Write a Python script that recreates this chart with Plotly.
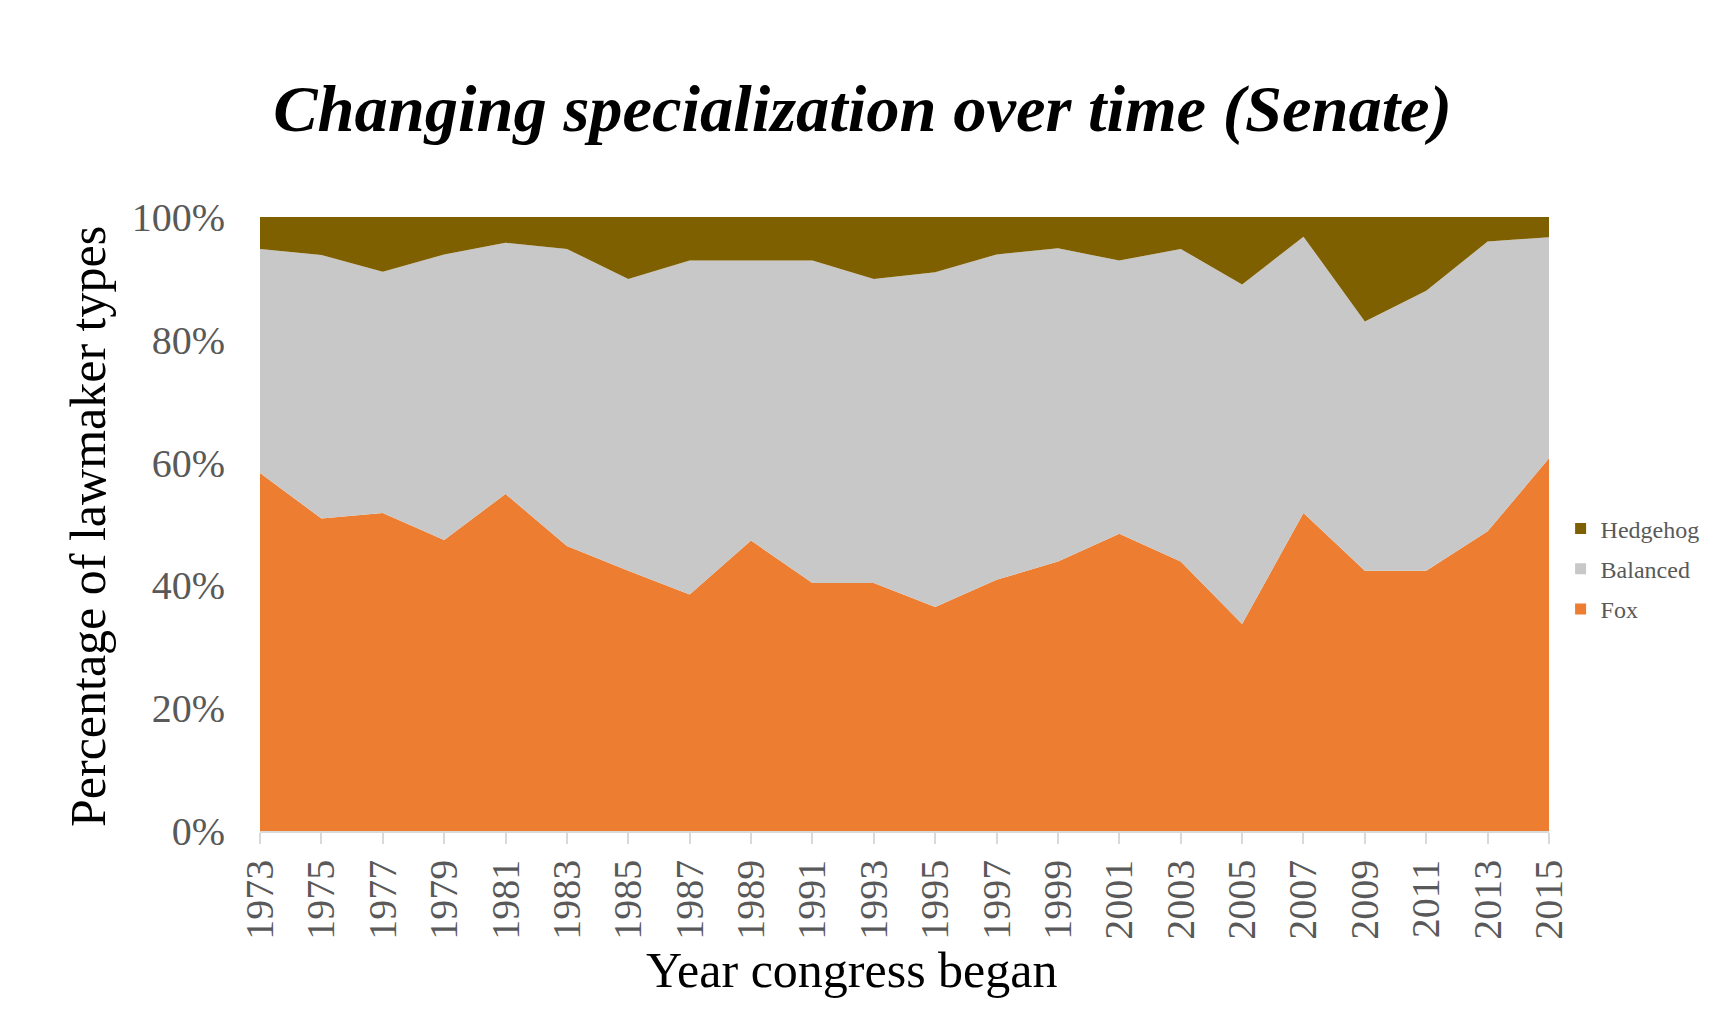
import plotly.graph_objects as go

years = [1973, 1975, 1977, 1979, 1981, 1983, 1985, 1987, 1989, 1991, 1993,
         1995, 1997, 1999, 2001, 2003, 2005, 2007, 2009, 2011, 2013, 2015]
fox = [58.3, 50.9, 51.8, 47.4, 54.9, 46.4, 42.4, 38.5, 47.3, 40.4, 40.4,
       36.5, 40.9, 43.9, 48.4, 43.9, 33.7, 51.8, 42.4, 42.4, 48.8, 60.7]
balanced = [36.5, 42.9, 39.3, 46.5, 40.9, 48.4, 47.5, 54.4, 45.6, 52.5, 49.5,
            54.5, 53.0, 51.0, 44.5, 50.9, 55.3, 45.0, 40.6, 45.6, 47.2, 36.0]
hedgehog = [5.2, 6.2, 8.9, 6.1, 4.2, 5.2, 10.1, 7.1, 7.1, 7.1, 10.1,
            9.0, 6.1, 5.1, 7.1, 5.2, 11.0, 3.2, 17.0, 12.0, 4.0, 3.3]
series_names = ["Fox", "Balanced", "Hedgehog"]
series_colors = ["#ED7D31", "#C8C8C8", "#7F6000"]
y_ticks = [0, 20, 40, 60, 80, 100]
y_tick_labels = ["0%", "20%", "40%", "60%", "80%", "100%"]

FONT = "Liberation Serif, Times New Roman, serif"

fig = go.Figure()
for name, vals, col in zip(series_names, [fox, balanced, hedgehog], series_colors):
    fig.add_trace(go.Scatter(
        x=years, y=vals, name=name, stackgroup="one", mode="none",
        fillcolor=col, showlegend=False, hoverinfo="x+y+name"))
# legend entries (square markers), top to bottom: Hedgehog, Balanced, Fox
for name, col in reversed(list(zip(series_names, series_colors))):
    fig.add_trace(go.Scatter(
        x=[None], y=[None], name=name, mode="markers",
        marker=dict(symbol="square", size=11, color=col),
        legendgroup=name, showlegend=True))

fig.update_layout(
    width=1725, height=1027,
    margin=dict(l=260, r=176, t=217, b=196, autoexpand=False),
    paper_bgcolor="white", plot_bgcolor="white",
    font=dict(family=FONT, color="#595959"),
    title=dict(text="<b><i>Changing specialization over time (Senate)</i></b>",
               font=dict(family=FONT, size=66.5, color="black"),
               xref="container", x=0.5, xanchor="center",
               yref="container", y=1 - 108 / 1027, yanchor="middle"),
    legend=dict(x=1.009, xanchor="left", y=(831 - 569) / 614, yanchor="middle",
                traceorder="grouped",
                font=dict(family=FONT, size=24, color="#595959"),
                tracegroupgap=6, itemwidth=30, bgcolor="rgba(0,0,0,0)"),
    showlegend=True,
)
fig.update_xaxes(
    range=[years[0], years[-1]], tickmode="array", tickvals=years,
    ticktext=[str(y) for y in years], tickangle=-90,
    tickfont=dict(family=FONT, size=40, color="#595959"),
    showline=True, linecolor="#D9D9D9", linewidth=1.5,
    ticks="outside", ticklen=11, tickcolor="#D9D9D9", tickwidth=1.5,
    showgrid=False, zeroline=False, fixedrange=True)
fig.update_yaxes(
    range=[0, 100], tickmode="array", tickvals=y_ticks, ticktext=y_tick_labels,
    tickfont=dict(family=FONT, size=40, color="#595959"),
    showline=False, showgrid=False, zeroline=False, ticks="",
    ticklabelstandoff=34, fixedrange=True)

fig.add_annotation(text="Year congress began", xref="paper", yref="paper",
                   x=0.459, y=(831 - 970) / 614, xanchor="center", yanchor="middle",
                   showarrow=False, font=dict(family=FONT, size=50, color="black"))
fig.add_annotation(text="Percentage of lawmaker types", xref="paper", yref="paper",
                   x=(88 - 260) / 1289, y=(831 - 527) / 614, xanchor="center", yanchor="middle",
                   textangle=-90, showarrow=False,
                   font=dict(family=FONT, size=50, color="black"))

fig.write_html("out.html")
